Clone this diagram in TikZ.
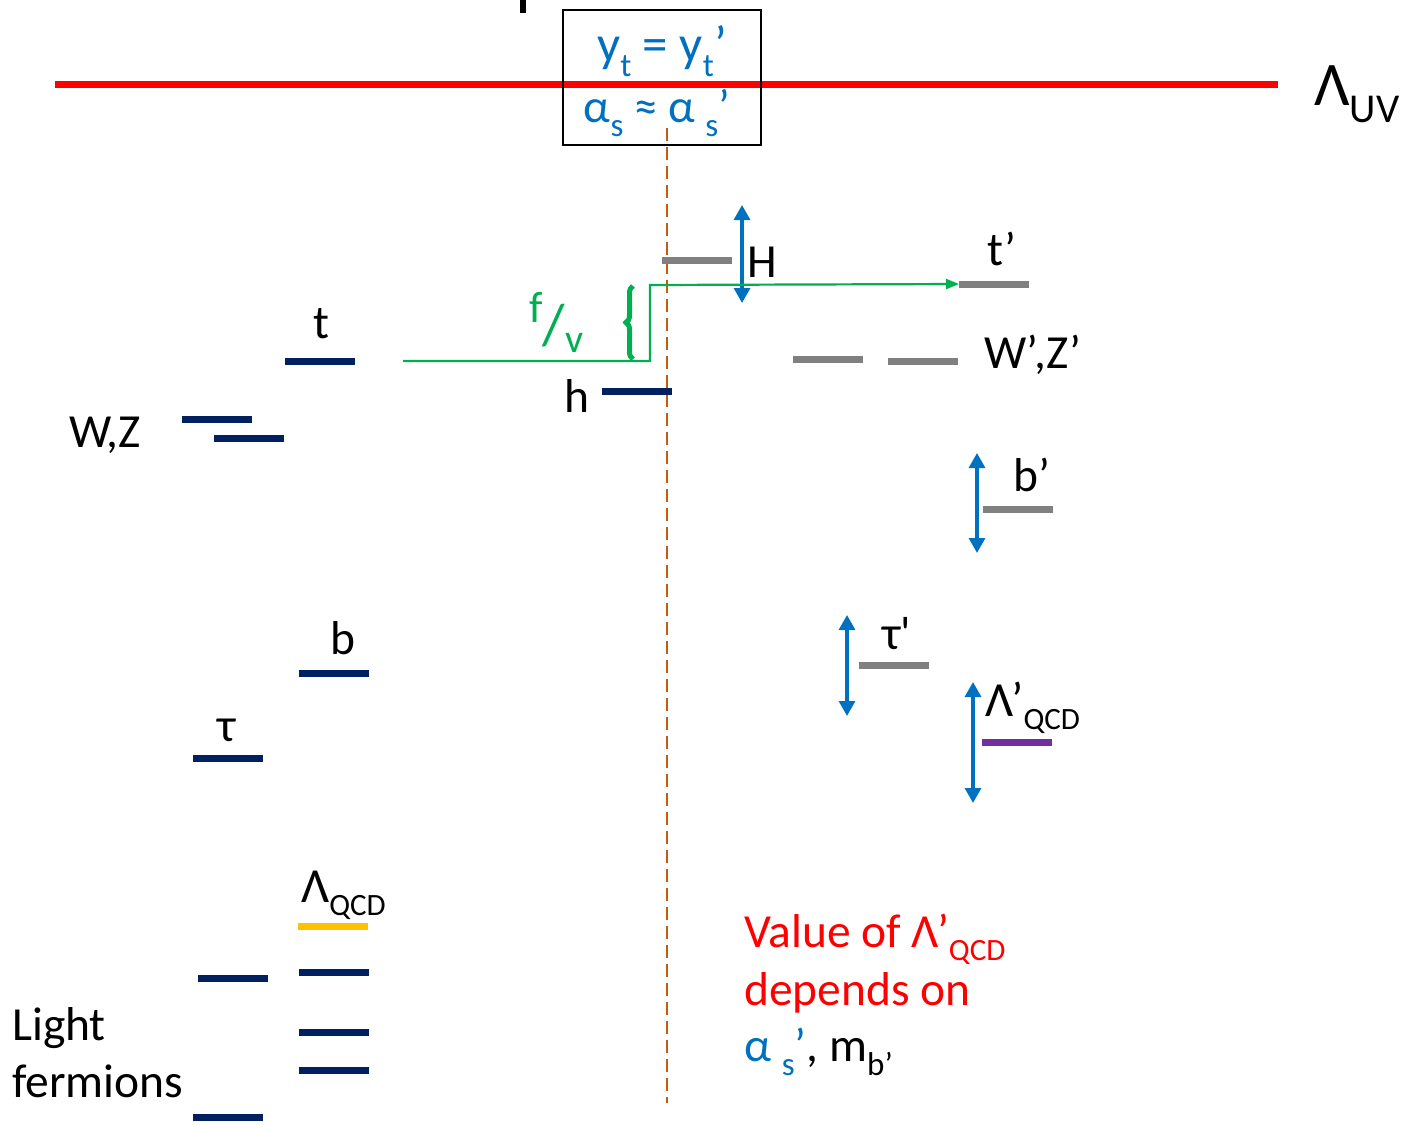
\documentclass[tikz,border=0pt]{standalone}
\usepackage{fontspec}
\setmainfont{Carlito}
\usetikzlibrary{arrows.meta,decorations.pathreplacing}
\definecolor{navy}{HTML}{002060}
\definecolor{lgray}{HTML}{808080}
\definecolor{pblue}{HTML}{0070C0}
\definecolor{pgreen}{HTML}{00B050}
\definecolor{pred}{HTML}{FF0000}
\definecolor{porange}{HTML}{C55A11}
\definecolor{ppurple}{HTML}{7030A0}
\definecolor{pgold}{HTML}{FFC000}
\newcommand\sbq[1]{\raisebox{-0.28em}{\fontsize{31}{31}\selectfont #1}}
\newcommand\sbt[1]{\raisebox{-0.3em}{\fontsize{33}{33}\selectfont #1}}
\begin{document}
\begin{tikzpicture}[x=1pt,y=-1pt,
  lvl/.style={minimum width=70, minimum height=7, inner sep=0, outer sep=0, draw=none},
  lbl/.style={font=\fontsize{47.5}{52}\selectfont, inner sep=0, anchor=base west},
  updown/.style={pblue, line width=3.2, {Triangle[length=15,width=16]}-{Triangle[length=15,width=16]}}]
\useasboundingbox (0,0) rectangle (1404,1124);
% top mark
\fill (520,0) rectangle (526,13);
% UV line
\coordinate (uvl) at (55,84);
\coordinate (uvr) at (1278,84);
\draw[pred, line width=7] (uvl) -- (uvr);
\node[lbl, font=\fontsize{62}{66}\selectfont] (luv) at (1314,105) {Λ\raisebox{-0.28em}{\fontsize{41}{41}\selectfont UV}};
% box
\node[draw, line width=1.3, minimum width=198, minimum height=135, inner sep=0] (box) at (662,77.5) {};
\node[inner sep=0, anchor=base, text=pblue, font=\fontsize{51}{54}\selectfont] (bl1) at (662,61) {y\sbt{t} = y\sbt{t}’};
\node[inner sep=0, anchor=base, text=pblue, font=\fontsize{47}{50}\selectfont] (bl2) at (657,122) {α\sbt{s} ≈ α \sbt{s}’};
% dashed line
\coordinate (dtop) at (667,128);
\coordinate (dbot) at (667,1103);
\draw[porange, line width=2.2, dash pattern=on 13 off 6] (dtop) -- (dbot);
% SM levels
\node[lvl, fill=navy] (t) at (320,361) {};
\node[lbl, anchor=base] (lt) at (321,338) {t};
\node[lvl, fill=navy] (w1) at (217,419) {};
\node[lvl, fill=navy] (w2) at (249,438) {};
\node[lbl] (lwz) at (69,447) {W,Z};
\node[lvl, fill=navy] (h) at (637,391) {};
\node[lbl] (lh) at (564,412) {h};
\node[lvl, fill=navy] (b) at (334,673) {};
\node[lbl] (lb) at (330,654) {b};
\node[lvl, fill=navy] (tau) at (228,758) {};
\node[lbl] (ltau) at (217,741) {τ};
\node[lvl, fill=pgold] (lq) at (333,926) {};
\node[lbl, font=\fontsize{49}{52}\selectfont] (llq) at (301,902) {Λ\sbq{QCD}};
\node[lvl, fill=navy] (f1) at (233,978) {};
\node[lvl, fill=navy] (f2) at (334,972) {};
\node[lvl, fill=navy] (f3) at (334,1032) {};
\node[lvl, fill=navy] (f4) at (334,1070) {};
\node[lvl, fill=navy] (f5) at (228,1117) {};
\node[lbl] (llight) at (12,1040) {Light};
\node[lbl] (lferm) at (12,1097) {fermions};
% mirror levels
\node[lvl, fill=lgray] (H) at (697,260) {};
\node[lbl] (lH) at (747,277) {H};
\coordinate (Ha) at (742,205);
\coordinate (Hb) at (742,303);
\draw[updown] (Ha) -- (Hb);
\node[lvl, fill=lgray] (tp) at (994,284) {};
\node[lbl] (ltp) at (987,265) {t’};
\node[lvl, fill=lgray] (wp1) at (828,359) {};
\node[lvl, fill=lgray] (wp2) at (923,361) {};
\node[lbl] (lwzp) at (984,368) {W’,Z’};
\node[lvl, fill=lgray] (bp) at (1018,509) {};
\node[lbl] (lbp) at (1013,491) {b’};
\coordinate (bpa) at (977,453);
\coordinate (bpb) at (977,553);
\draw[updown] (bpa) -- (bpb);
\node[lvl, fill=lgray] (taup) at (894,665) {};
\node[lbl] (ltaup) at (882,649) {τ\textquotesingle};
\coordinate (tpa) at (847,615);
\coordinate (tpb) at (847,716);
\draw[updown] (tpa) -- (tpb);
\node[lvl, fill=ppurple] (lqp) at (1017,742) {};
\node[lbl, font=\fontsize{49}{52}\selectfont] (llqp) at (985,716) {Λ’\sbq{QCD}};
\coordinate (qpa) at (973,682);
\coordinate (qpb) at (973,803);
\draw[updown] (qpa) -- (qpb);
% green f/v step
\coordinate (gs) at (403,361);
\coordinate (g1) at (650,361);
\coordinate (g2) at (650,285);
\draw[pgreen, line width=2.2, -{Triangle[length=13,width=10]}] (gs) -- (g1) -- (g2) -- (tp.west);
\coordinate (br1) at (633,359);
\coordinate (br2) at (633,286);
\draw[pgreen, line width=5, decorate, decoration={brace, amplitude=7, aspect=0.5}] (br1) -- (br2);
\node[lbl, text=pgreen] (fv) at (529,344) {\raisebox{22pt}{\fontsize{44}{46}\selectfont f}{\fontsize{58}{60}\selectfont /}\raisebox{-8pt}{\fontsize{40}{42}\selectfont v}};
% red note
\node[lbl, text=pred] (n1) at (744,947) {Value of Λ’\sbq{QCD}};
\node[lbl, text=pred] (n2) at (744,1005) {depends on};
\node[lbl] (n3) at (744,1061) {\textcolor{pblue}{α \sbt{s}’}, m\sbt{b’}};
\end{tikzpicture}
\end{document}
